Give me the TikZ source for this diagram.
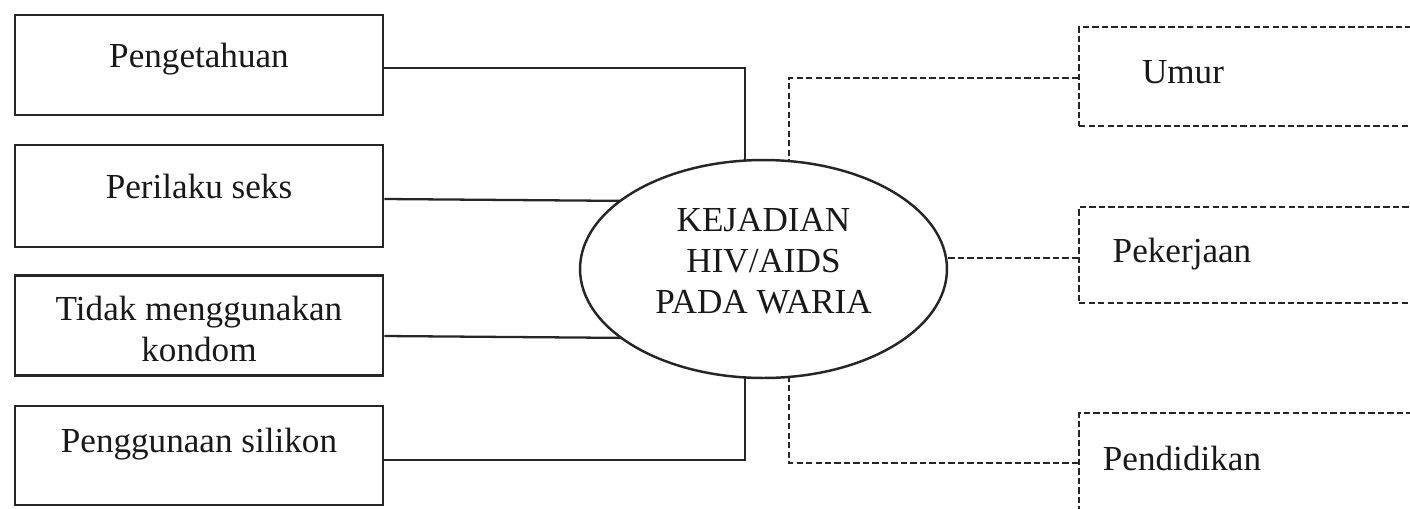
\documentclass[tikz,border=0pt]{standalone}
\usepackage{fontspec}
\setmainfont{Liberation Serif}
\usetikzlibrary{shapes.geometric,backgrounds}
\begin{document}
\begin{tikzpicture}[x=0.02cm,y=-0.02cm,
  lbl/.style={font=\fontsize{20}{23.5}\selectfont, inner sep=0pt, text=black!90},
  solidbox/.style={draw=black!85, line width=1.5pt, minimum width=7.36cm, minimum height=2cm, inner sep=0pt},
  dashbox/.style={draw=black!85, line width=1.2pt, dash pattern=on 3.6pt off 1.8pt, anchor=west, minimum width=8.6cm, inner sep=0pt},
  link/.style={draw=black!85, line width=1.3pt},
  dlink/.style={draw=black!85, line width=1.2pt, dash pattern=on 3.6pt off 1.8pt}]
\useasboundingbox (0,0) rectangle (1410,508);
\clip (0,0) rectangle (1410,508);

% risk factors (left column)
\node[solidbox] (b1) at (199,65) {};
\node[solidbox, minimum height=2.04cm] (b2) at (199,196) {};
\node[solidbox] (b3) at (199,325.5) {};
\node[solidbox, minimum height=1.98cm] (b4) at (199,455.5) {};
\node[lbl, anchor=base] (t1) at (199,67) {Pengetahuan};
\node[lbl, anchor=base] (t2) at (199,198) {Perilaku seks};
\node[lbl, align=center] (t3) at (199,329) {Tidak menggunakan\\kondom};
\node[lbl, anchor=base] (t4) at (199,452) {Penggunaan silikon};

% central outcome
\node[ellipse, draw=black!85, line width=1.4pt, fill=white, minimum width=7.34cm, minimum height=4.36cm, inner sep=0pt] (el) at (763.5,269) {};
\node[lbl, align=center] (tel) at (763.5,261) {KEJADIAN\\HIV/AIDS\\PADA WARIA};

% characteristics (right column)
\node[dashbox, minimum height=1.98cm] (r1) at (1078,76.5) {};
\node[dashbox, minimum height=1.92cm] (r2) at (1078,255) {};
\node[dashbox, minimum height=2cm] (r3) at (1078,463) {};
\node[lbl, anchor=base] (u1) at (1183,83) {Umur};
\node[lbl, anchor=base] (u2) at (1182,262) {Pekerjaan};
\node[lbl, anchor=base] (u3) at (1182,470) {Pendidikan};

% joints on the ellipse
\coordinate (jx) at (745,269);
\coordinate (kx) at (789,269);

\begin{scope}[on background layer]
  \draw[link] (b1.east |- 0,68) -| (jx);
  \draw[link] (b2.east |- 0,199) -- (el.center |- 0,202);
  \draw[link] (b3.east |- 0,336) -- (el.center |- 0,339);
  \draw[link] (b4.east |- 0,460) -| (jx);
  \draw[dlink] (r1.west |- 0,78) -| (kx);
  \draw[dlink] (r2.west |- 0,258) -- (el.center |- 0,258);
  \draw[dlink] (r3.west) -| (kx);
\end{scope}
\end{tikzpicture}
\end{document}
